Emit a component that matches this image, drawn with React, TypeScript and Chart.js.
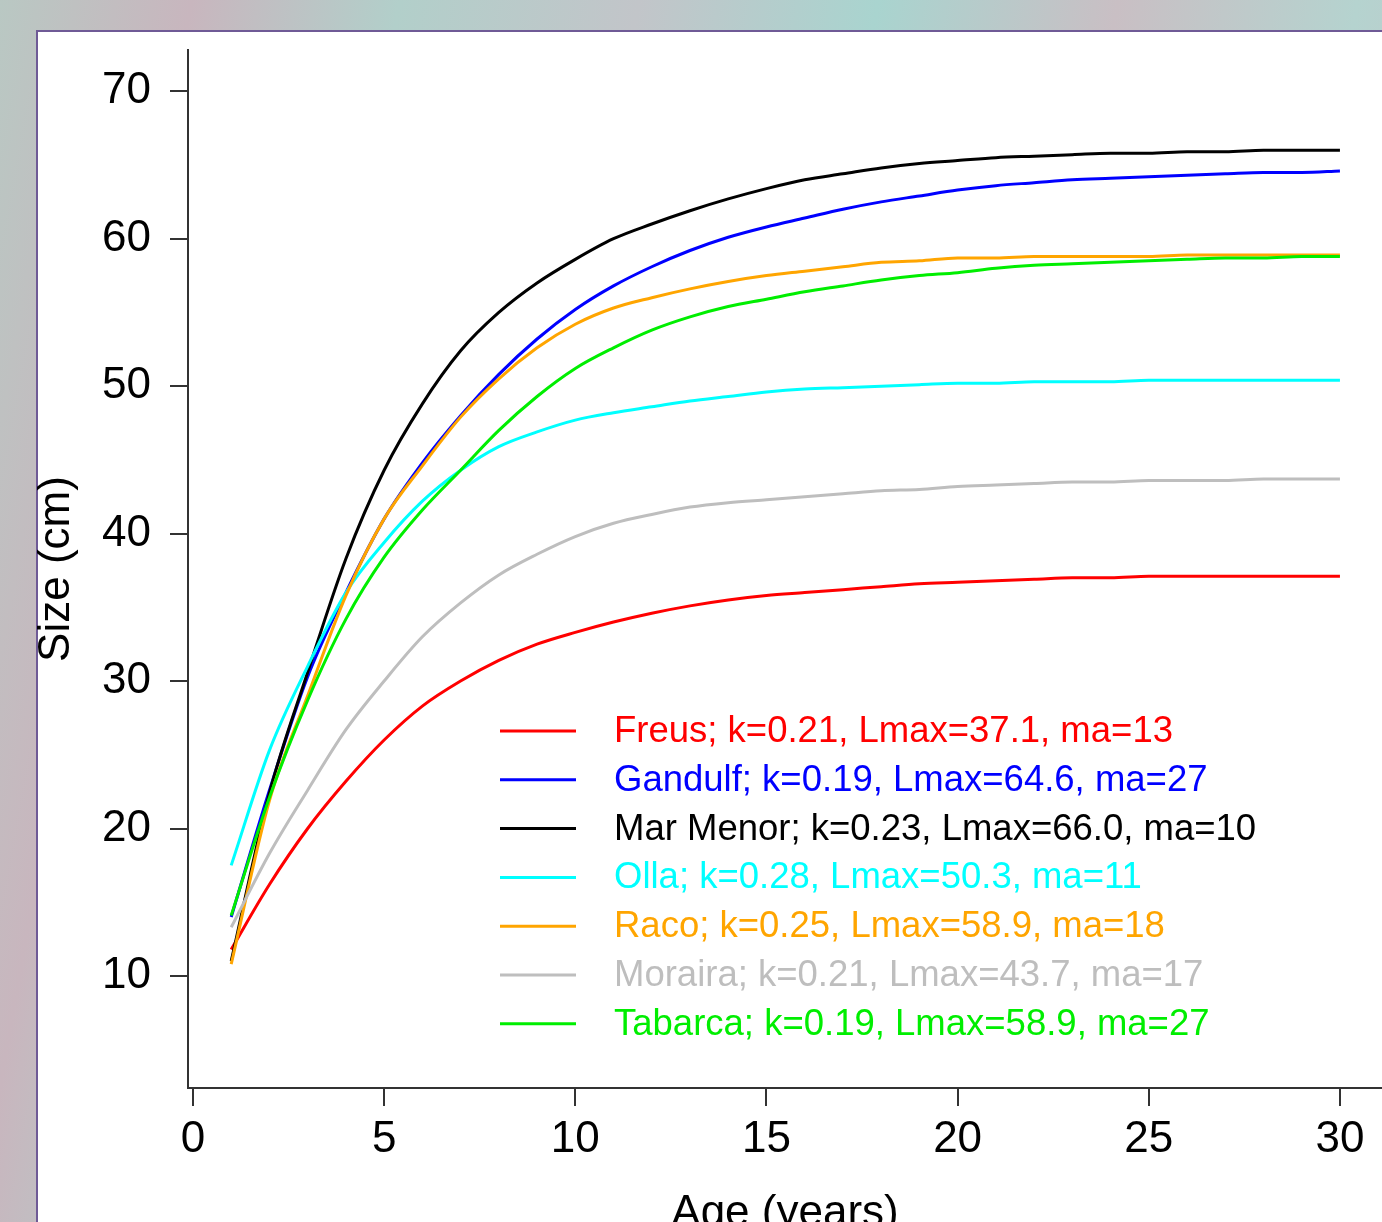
import React, { useEffect, useRef } from "react";
import { Chart, registerables } from "chart.js";

Chart.register(...registerables);

// ---- data ----
const ages = [1, 2, 3, 4, 5, 6, 7, 8, 9, 10, 11, 12, 13, 14, 15, 16, 17, 18, 19, 20, 21, 22, 23, 24, 25, 26, 27, 28, 29, 30];

const freus = [11.8, 16.2, 20.0, 23.2, 26.0, 28.3, 30.0, 31.4, 32.5, 33.3, 34.0, 34.6, 35.1, 35.5, 35.8, 36.0, 36.2, 36.4, 36.6, 36.7, 36.8, 36.9, 37.0, 37.0, 37.1, 37.1, 37.1, 37.1, 37.1, 37.1];
const gandulf = [14.0, 22.6, 30.3, 36.0, 41.0, 44.8, 48.0, 50.8, 53.2, 55.2, 56.8, 58.1, 59.2, 60.1, 60.8, 61.4, 62.0, 62.5, 62.9, 63.3, 63.6, 63.8, 64.0, 64.1, 64.2, 64.3, 64.4, 64.5, 64.5, 64.6];
const marMenor = [11.0, 22.4, 30.6, 38.3, 44.3, 48.8, 52.4, 55.0, 57.0, 58.6, 60.0, 61.0, 61.9, 62.7, 63.4, 64.0, 64.4, 64.8, 65.1, 65.3, 65.5, 65.6, 65.7, 65.8, 65.8, 65.9, 65.9, 66.0, 66.0, 66.0];
const olla = [17.5, 25.3, 31.0, 36.0, 39.4, 42.2, 44.3, 45.9, 46.9, 47.7, 48.2, 48.6, 49.0, 49.3, 49.6, 49.8, 49.9, 50.0, 50.1, 50.2, 50.2, 50.3, 50.3, 50.3, 50.4, 50.4, 50.4, 50.4, 50.4, 50.4];
const raco = [10.8, 21.9, 29.0, 35.8, 41.0, 44.6, 47.9, 50.5, 52.6, 54.2, 55.3, 56.0, 56.6, 57.1, 57.5, 57.8, 58.1, 58.4, 58.5, 58.7, 58.7, 58.8, 58.8, 58.8, 58.8, 58.9, 58.9, 58.9, 58.9, 58.9];
const moraira = [13.3, 18.3, 22.6, 26.7, 30.0, 33.0, 35.3, 37.2, 38.6, 39.8, 40.7, 41.3, 41.8, 42.1, 42.3, 42.5, 42.7, 42.9, 43.0, 43.2, 43.3, 43.4, 43.5, 43.5, 43.6, 43.6, 43.6, 43.7, 43.7, 43.7];
const tabarca = [14.1, 22.1, 28.7, 34.2, 38.4, 41.6, 44.3, 47.0, 49.3, 51.2, 52.6, 53.8, 54.7, 55.4, 55.9, 56.4, 56.8, 57.2, 57.5, 57.7, 58.0, 58.2, 58.3, 58.4, 58.5, 58.6, 58.7, 58.7, 58.8, 58.8];

const seriesLabels = [
  "Freus; k=0.21, Lmax=37.1, ma=13",
  "Gandulf; k=0.19, Lmax=64.6, ma=27",
  "Mar Menor; k=0.23, Lmax=66.0, ma=10",
  "Olla; k=0.28, Lmax=50.3, ma=11",
  "Raco; k=0.25, Lmax=58.9, ma=18",
  "Moraira; k=0.21, Lmax=43.7, ma=17",
  "Tabarca; k=0.19, Lmax=58.9, ma=27",
];
const seriesValues = [freus, gandulf, marMenor, olla, raco, moraira, tabarca];
const seriesColors = ["#ff0000", "#0000ff", "#000000", "#00ffff", "#ffa500", "#bebebe", "#00ee00"];

const xTicks = [0, 5, 10, 15, 20, 25, 30];
const yTicks = [10, 20, 30, 40, 50, 60, 70];
const xTitle = "Age (years)";
const yTitle = "Size (cm)";

const FONT = '"Liberation Sans", Arial, sans-serif';
const CANVAS_W = 1382;
const CANVAS_H = 1260;

const insetLegend = {
  id: "insetLegend",
  afterDatasetsDraw(chart: any) {
    const ctx = chart.ctx;
    ctx.save();
    ctx.font = `36.5px ${FONT}`;
    ctx.textBaseline = "middle";
    ctx.textAlign = "left";
    chart.data.datasets.forEach((ds: any, i: number) => {
      const y = 731 + i * 48.8;
      ctx.strokeStyle = ds.borderColor;
      ctx.lineWidth = 3;
      ctx.beginPath();
      ctx.moveTo(500, y);
      ctx.lineTo(576, y);
      ctx.stroke();
      ctx.fillStyle = ds.borderColor;
      ctx.fillText(ds.label, 614, y + 1);
    });
    ctx.restore();
  },
};

export default function App() {
  const ref = useRef<HTMLCanvasElement | null>(null);

  useEffect(() => {
    if (!ref.current) return;
    const n = seriesValues.length;
    const chart = new Chart(ref.current, {
      type: "line",
      data: {
        datasets: seriesValues.map((vals, i) => ({
          label: seriesLabels[i],
          data: ages.map((a, j) => ({ x: a, y: vals[j] })),
          borderColor: seriesColors[i],
          backgroundColor: seriesColors[i],
          borderWidth: 3,
          pointRadius: 0,
          cubicInterpolationMode: "monotone" as const,
          fill: false,
          order: n - i,
        })),
      },
      options: {
        responsive: false,
        animation: false,
        layout: { padding: { top: 50, left: 0, right: 0, bottom: 0 } },
        plugins: {
          legend: { display: false },
          tooltip: { enabled: false },
        },
        scales: {
          x: {
            type: "linear",
            min: -0.13,
            max: 31.1,
            afterFit: (s: any) => {
              s.height = CANVAS_H - 1088;
            },
            afterBuildTicks: (s: any) => {
              s.ticks = xTicks.map((v) => ({ value: v }));
            },
            grid: {
              display: true,
              drawOnChartArea: false,
              drawTicks: true,
              tickLength: 18,
              color: "#333333",
              lineWidth: 2,
            },
            border: { display: true, color: "#333333", width: 2 },
            ticks: {
              color: "#000000",
              font: { family: FONT, size: 44 },
              padding: 7,
              maxRotation: 0,
              autoSkip: false,
            },
            title: {
              display: true,
              text: xTitle,
              color: "#000000",
              font: { family: FONT, size: 44 },
              padding: { top: 0, bottom: 20 },
            },
          },
          y: {
            type: "linear",
            min: 2.4,
            max: 72.8,
            afterFit: (s: any) => {
              s.width = 188;
            },
            afterBuildTicks: (s: any) => {
              s.ticks = yTicks.map((v) => ({ value: v }));
            },
            grid: {
              display: true,
              drawOnChartArea: false,
              drawTicks: true,
              tickLength: 18,
              color: "#333333",
              lineWidth: 2,
            },
            border: { display: true, color: "#333333", width: 2 },
            ticks: {
              color: "#000000",
              font: { family: FONT, size: 44 },
              padding: 19,
              autoSkip: false,
            },
            title: {
              display: true,
              text: yTitle,
              color: "#000000",
              font: { family: FONT, size: 44 },
              padding: { top: 30, bottom: 0 },
            },
          },
        },
      },
      plugins: [insetLegend],
    });
    return () => chart.destroy();
  }, []);

  return (
    <div
      style={{
        position: "absolute",
        left: 0,
        top: 0,
        width: 1382,
        height: 1222,
        overflow: "hidden",
        background:
          "linear-gradient(100deg, #b9c8c3 0%, #c8b6be 12%, #b2cfca 25%, #c2c5c9 40%, #a9d4cf 55%, #c9bfc4 70%, #b5d3cf 85%, #c6c2c8 100%)",
      }}
    >
      <div
        style={{
          position: "absolute",
          left: 36,
          top: 30,
          width: 1400,
          height: 1250,
          background: "#ffffff",
          borderLeft: "2px solid #6f5a96",
          borderTop: "2px solid #6f5a96",
        }}
      />
      <canvas
        ref={ref}
        width={CANVAS_W}
        height={CANVAS_H}
        style={{ position: "absolute", left: 0, top: 0, display: "block" }}
      />
    </div>
  );
}
